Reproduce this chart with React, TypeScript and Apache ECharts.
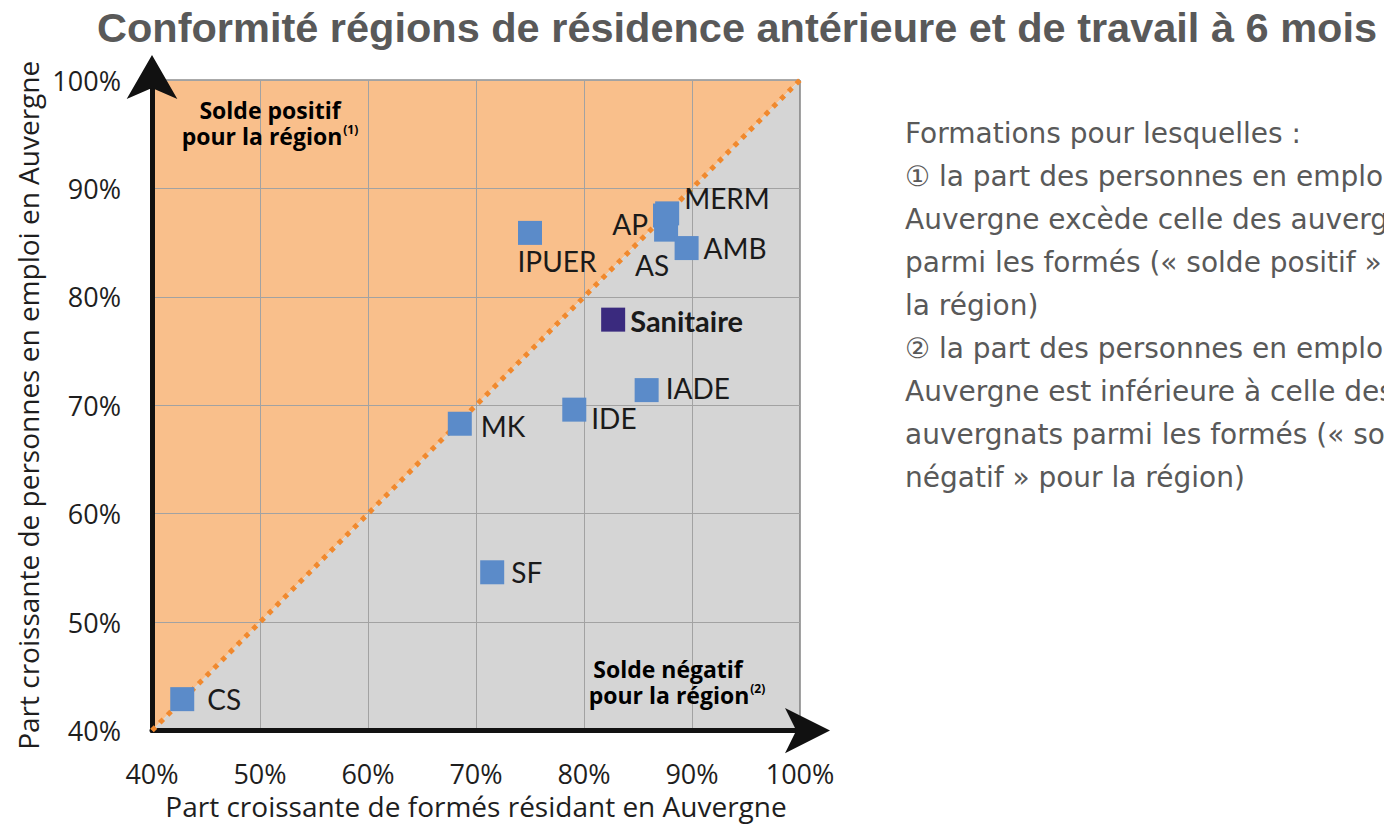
import React, { useEffect, useRef } from 'react';
import * as echarts from 'echarts';

const chartTitle = 'Conformité régions de résidence antérieure et de travail à 6 mois';
const xAxisName = 'Part croissante de formés résidant en Auvergne';
const yAxisName = 'Part croissante de personnes en emploi en Auvergne';
const axisMin = 40;
const axisMax = 100;
const axisStep = 10;

const formations = ['CS', 'MK', 'SF', 'IDE', 'IADE', 'Sanitaire', 'IPUER', 'AP', 'MERM', 'AS', 'AMB'];
const partFormesResidant = [42.8, 68.5, 71.5, 79.1, 85.8, 82.7, 75.0, 87.5, 87.7, 87.6, 89.5];
const partEmploiAuvergne = [42.9, 68.3, 54.6, 69.6, 71.4, 77.9, 85.9, 87.5, 87.7, 86.2, 84.5];
const highlighted = 'Sanitaire';

const zonePositive = ['Solde positif', 'pour la région', '(1)'];
const zoneNegative = ['Solde négatif', 'pour la région', '(2)'];

const noteLines = [
  'Formations pour lesquelles :',
  '\u2460 la part des personnes en emploi en',
  'Auvergne excède celle des auvergnats',
  'parmi les formés (« solde positif » pour',
  'la région)',
  '\u2461 la part des personnes en emploi en',
  'Auvergne est inférieure à celle des',
  'auvergnats parmi les formés (« solde',
  'négatif » pour la région)',
];

const labelPlacement: Record<string, { position: string; offset: [number, number] }> = {
  CS: { position: 'right', offset: [8, 0] },
  MK: { position: 'right', offset: [4, 2] },
  SF: { position: 'right', offset: [2, 0] },
  IDE: { position: 'right', offset: [0, 8] },
  IADE: { position: 'right', offset: [2, -2] },
  Sanitaire: { position: 'right', offset: [0, 1] },
  IPUER: { position: 'bottom', offset: [27, -3] },
  AP: { position: 'left', offset: [0, 8] },
  MERM: { position: 'right', offset: [0, -15] },
  AS: { position: 'bottom', offset: [-14, 4] },
  AMB: { position: 'right', offset: [0, 0] },
};

const POINT_FONT = 'Lato';
const AXIS_FONT = 'Open Sans';
const NOTE_FONT = 'DejaVu Sans';

export default function App() {
  const ref = useRef<HTMLDivElement>(null);

  useEffect(() => {
    document.body.style.margin = '0';
    document.body.style.overflow = 'hidden';
    if (!ref.current) return;
    const chart = echarts.init(ref.current, null, { renderer: 'svg' });

    const upperZone = [
      [axisMin, axisMin],
      [axisMin, axisMax],
      [axisMax, axisMax],
    ];
    const lowerZone = [
      [axisMin, axisMin],
      [axisMax, axisMin],
      [axisMax, axisMax],
    ];

    const scatterData = formations.map((name, i) => {
      const p = labelPlacement[name];
      const isHi = name === highlighted;
      return {
        name,
        value: [partFormesResidant[i], partEmploiAuvergne[i]],
        itemStyle: { color: isHi ? '#3A2A7E' : '#5B8BC9', opacity: 1 },
        label: {
          show: true,
          position: p.position,
          offset: p.offset,
          fontWeight: isHi ? 'bold' : 'normal',
          fontSize: isHi ? 29 : 28,
        },
      };
    });

    const axisCommon = {
      type: 'value',
      min: axisMin,
      max: axisMax,
      interval: axisStep,
      z: 2,
      axisTick: { show: false },
      splitLine: { show: true, lineStyle: { color: '#A2A2A2', width: 1 } },
      axisLabel: {
        formatter: '{value}%',
        fontSize: 27,
        lineHeight: 22,
        color: '#1E1E1E',
        fontFamily: AXIS_FONT,
        showMinLabel: true,
        showMaxLabel: true,
      },
      nameLocation: 'middle',
      nameTextStyle: { fontSize: 28, lineHeight: 22, color: '#1E1E1E', fontFamily: AXIS_FONT },
    };

    const zoneFont = { fontSize: 23, fontWeight: 'bold', fontFamily: AXIS_FONT, color: '#1A1A1A', lineHeight: 26 };
    const richZone = {
      b: zoneFont,
      bp: { ...zoneFont, padding: [0, 18, 0, 0] },
      s: { fontSize: 12, fontWeight: 'bold', fontFamily: AXIS_FONT, color: '#1A1A1A', verticalAlign: 'top', lineHeight: 26, padding: [0, 0, 10, 1] },
    };

    chart.setOption({
      animation: false,
      title: {
        text: chartTitle,
        left: 92,
        top: 1,
        textStyle: { fontFamily: 'Liberation Sans', fontWeight: 'bold', fontSize: 41.5, color: '#595959' },
      },
      grid: {
        left: 152,
        top: 80,
        width: 648,
        height: 652,
        show: true,
        z: 2,
        backgroundColor: 'transparent',
        borderColor: '#555555',
        borderWidth: 1,
      },
      xAxis: {
        ...axisCommon,
        axisLabel: { ...axisCommon.axisLabel, margin: 32 },
        axisLine: {
          show: true,
          lineStyle: { color: '#111111', width: 5 },
          symbol: ['none', 'arrow'],
          symbolSize: [34, 45],
          symbolOffset: [0, 30],
        },
        name: xAxisName,
        nameGap: 55,
      },
      yAxis: {
        ...axisCommon,
        axisLabel: { ...axisCommon.axisLabel, margin: 31 },
        axisLine: {
          show: true,
          lineStyle: { color: '#111111', width: 5 },
          symbol: ['none', 'arrow'],
          symbolSize: [38, 44],
          symbolOffset: [0, 25],
        },
        name: yAxisName,
        nameGap: 113,
      },
      graphic: [
        {
          type: 'text',
          left: 905,
          top: 112,
          z: 10,
          style: {
            text: noteLines.join('\n'),
            font: `28px "${NOTE_FONT}"`,
            fill: '#595959',
            lineHeight: 43,
          },
        },
        {
          type: 'text',
          x: 270,
          y: 97,
          z: 10,
          style: {
            text: `{b|${zonePositive[0]}}\n{b|${zonePositive[1]}}{s|${zonePositive[2]}}`,
            rich: richZone,
            align: 'center',
          },
        },
        {
          type: 'text',
          x: 677,
          y: 656,
          z: 10,
          style: {
            text: `{bp|${zoneNegative[0]}}\n{b|${zoneNegative[1]}}{s|${zoneNegative[2]}}`,
            rich: richZone,
            align: 'center',
          },
        },
      ],
      series: [
        {
          type: 'custom',
          z: 1,
          silent: true,
          data: [[axisMin, axisMin]],
          renderItem: (_params: any, api: any) => ({
            type: 'group',
            children: [
              { type: 'polygon', shape: { points: upperZone.map((p) => api.coord(p)) }, style: { fill: '#F9BF8B' } },
              { type: 'polygon', shape: { points: lowerZone.map((p) => api.coord(p)) }, style: { fill: '#D5D5D5' } },
            ],
          }),
        },
        {
          type: 'line',
          z: 3,
          silent: true,
          symbol: 'none',
          data: [
            [axisMin, axisMin],
            [axisMax, axisMax],
          ],
          lineStyle: { color: '#F0892E', width: 5, type: [5, 6] },
        },
        {
          type: 'scatter',
          z: 5,
          symbol: 'rect',
          symbolSize: 24,
          data: scatterData,
          label: {
            formatter: '{b}',
            fontFamily: POINT_FONT,
            color: '#1A1A1A',
          },
        },
      ],
    });

    return () => chart.dispose();
  }, []);

  return <div ref={ref} style={{ width: 1384, height: 825 }} />;
}
